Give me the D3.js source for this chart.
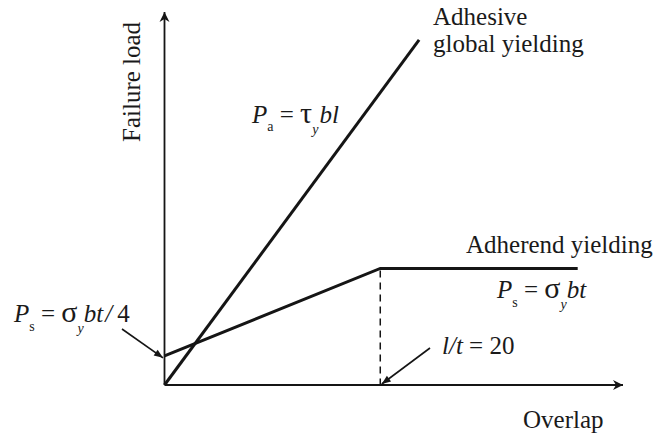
<!DOCTYPE html>
<html>
<head>
<meta charset="utf-8">
<script src="https://cdn.jsdelivr.net/npm/d3@7"></script>
<style>
  html, body { margin: 0; padding: 0; background: #fff; }
  svg { display: block; }
  text { font-family: "Liberation Serif", "Times New Roman", serif; fill: #1a1a1a; }
</style>
</head>
<body>
<script>
// Overlap expressed as l/t, failure load normalised by sigma_y * b * t
const adhesiveOverlap = [0, 23.6];
const adhesiveLoad    = [0, 2.96];
const adherendOverlap = [0, 20, 38.3];
const adherendLoad    = [0.25, 1, 1];
const transitionOverlap = 20;
const axisExtent = { overlap: 42.5, load: 3.2 };

const W = 658, H = 439;
const svg = d3.select("body").append("svg").attr("width", W).attr("height", H);

const x = d3.scaleLinear().domain([0, axisExtent.overlap]).range([164.5, 623]);
const y = d3.scaleLinear().domain([0, axisExtent.load]).range([385, 12]);

const ink = "#151515";
const defs = svg.append("defs");
defs.append("marker")
  .attr("id", "axisHead").attr("markerUnits", "userSpaceOnUse")
  .attr("viewBox", "-11 -6 12 12").attr("refX", 0).attr("refY", 0)
  .attr("markerWidth", 12).attr("markerHeight", 12).attr("orient", "auto")
  .append("path").attr("d", "M-10,-5 L0,0 L-10,5 L-7,0 Z").attr("fill", ink);
defs.append("marker")
  .attr("id", "noteHead").attr("markerUnits", "userSpaceOnUse")
  .attr("viewBox", "-10 -5 11 10").attr("refX", 0).attr("refY", 0)
  .attr("markerWidth", 11).attr("markerHeight", 10).attr("orient", "auto")
  .append("path").attr("d", "M-9,-3.5 L0,0 L-9,3.5 Z").attr("fill", ink);

// Axes with arrow tips
svg.append("line")
  .attr("x1", x(0)).attr("y1", y(0)).attr("x2", x(0)).attr("y2", y(axisExtent.load))
  .attr("stroke", ink).attr("stroke-width", 1.8).attr("marker-end", "url(#axisHead)");
svg.append("line")
  .attr("x1", x(0)).attr("y1", y(0)).attr("x2", x(axisExtent.overlap)).attr("y2", y(0))
  .attr("stroke", ink).attr("stroke-width", 1.8).attr("marker-end", "url(#axisHead)");

// Dashed guide at the transition overlap
svg.append("line")
  .attr("x1", x(transitionOverlap)).attr("y1", y(adherendLoad[1]) + 2)
  .attr("x2", x(transitionOverlap)).attr("y2", y(0))
  .attr("stroke", ink).attr("stroke-width", 1.5).attr("stroke-dasharray", "7,5");

const line = d3.line().x(d => x(d[0])).y(d => y(d[1]));
svg.append("path")
  .attr("d", line(d3.zip(adhesiveOverlap, adhesiveLoad)))
  .attr("fill", "none").attr("stroke", ink).attr("stroke-width", 3);
svg.append("path")
  .attr("d", line(d3.zip(adherendOverlap, adherendLoad)))
  .attr("fill", "none").attr("stroke", ink).attr("stroke-width", 3)
  .attr("stroke-linejoin", "miter");

// Annotation arrows
svg.append("line")
  .attr("x1", 122).attr("y1", 329)
  .attr("x2", x(0) - 1.5).attr("y2", y(adherendLoad[0]) + 2)
  .attr("stroke", ink).attr("stroke-width", 1.6).attr("marker-end", "url(#noteHead)");
svg.append("line")
  .attr("x1", 430).attr("y1", 348)
  .attr("x2", x(transitionOverlap) + 1.5).attr("y2", y(0) - 1)
  .attr("stroke", ink).attr("stroke-width", 1.6).attr("marker-end", "url(#noteHead)");

// Rich labels built from segments: italic / subscript / enlarged Greek flags
function richText(px, py, segs, size) {
  const t = svg.append("text").attr("x", px).attr("y", py).attr("font-size", size);
  let shift = 0;
  segs.forEach(s => {
    const target = s.sub || 0;
    const sp = t.append("tspan").text(s.t)
      .attr("dy", target - shift)
      .attr("font-size", s.sub ? 14 : (s.big ? size + 5 : size))
      .attr("font-style", s.it ? "italic" : "normal");
    if (s.dx) sp.attr("dx", s.dx);
    shift = target;
  });
  return t;
}

richText(252, 123, [
  { t: "P", it: true }, { t: "a", sub: 8 }, { t: " = " }, { t: "τ", big: true },
  { t: "y", it: true, sub: 11 }, { t: "bl", it: true, dx: 1 }
], 25);

richText(14, 322, [
  { t: "P", it: true }, { t: "s", sub: 9 }, { t: " = " }, { t: "σ", big: true },
  { t: "y", it: true, sub: 11 }, { t: "bt", it: true },
  { t: "/", it: true, dx: 2 }, { t: "4", dx: 5 }
], 25);

richText(497, 298, [
  { t: "P", it: true }, { t: "s", sub: 9 }, { t: " = " }, { t: "σ", big: true },
  { t: "y", it: true, sub: 11 }, { t: "bt", it: true }
], 25);

richText(442, 354, [
  { t: "l/t", it: true }, { t: " = 20" }
], 25);

svg.append("text").attr("x", 433).attr("y", 25).attr("font-size", 25).text("Adhesive");
svg.append("text").attr("x", 433).attr("y", 52).attr("font-size", 25).text("global yielding");
svg.append("text").attr("x", 466).attr("y", 253).attr("font-size", 25).text("Adherend yielding");
svg.append("text").attr("x", 523).attr("y", 428).attr("font-size", 25).text("Overlap");
svg.append("text").attr("font-size", 25)
  .attr("transform", "translate(140,142) rotate(-90)").text("Failure load");
</script>
</body>
</html>
